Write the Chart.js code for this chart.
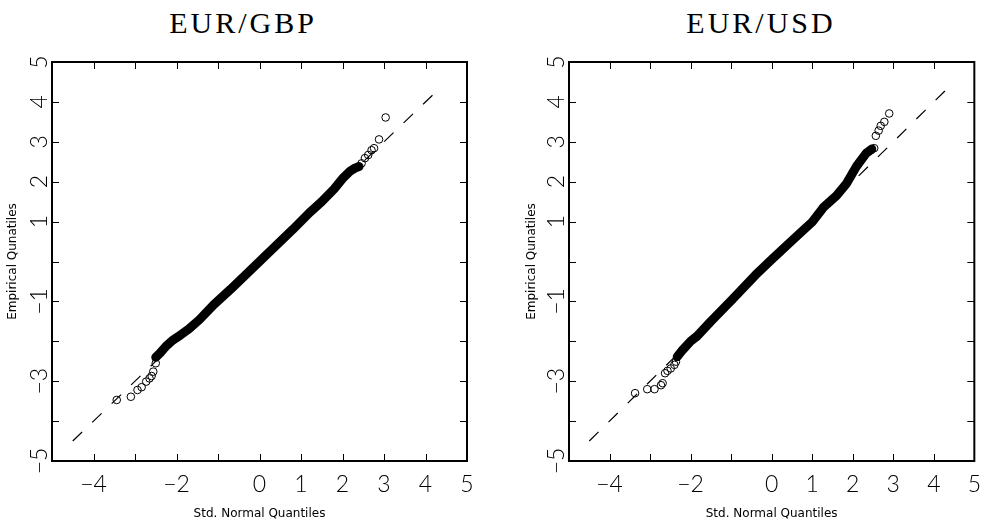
<!DOCTYPE html>
<html>
<head>
<meta charset="utf-8">
<script src="https://cdn.jsdelivr.net/npm/chart.js@4.4.1/dist/chart.umd.min.js"></script>
<style>
  html, body { margin: 0; padding: 0; background: #fff; }
  body { width: 991px; height: 530px; position: relative; overflow: hidden; }
  .panel { position: absolute; top: 0; height: 530px; }
  .title { position: absolute; top: 8px; font: 30px "Liberation Serif", serif; letter-spacing: 3px;
           line-height: 30px; transform: translateX(-50%); white-space: nowrap; color: #000; }
</style>
</head>
<body>
<div class="title" style="left:243px">EUR/GBP</div>
<div class="title" style="left:761px">EUR/USD</div>
<div class="panel" style="left:0;width:495px"><canvas id="gbp" width="495" height="530"></canvas></div>
<div class="panel" style="left:495px;width:496px"><canvas id="usd" width="496" height="530"></canvas></div>
<script>
// QQ plot values (std normal quantile, empirical quantile)

// reference line y = x
const refX = [-4.5, 4.35];
const refY = [-4.5, 4.35];

// labelled ticks (others are drawn as bare tick marks)
const xLabelled = [-4, -2, 0, 1, 2, 3, 4, 5];
const yLabelled = [-5, -3, -1, 1, 2, 3, 4, 5];

// EUR/GBP: dense central band + tail circles
const gbpBandX = [-2.50, -2.40, -2.25, -2.10, -1.90, -1.70, -1.45, -1.10, -0.70, -0.30, 0.00, 0.40, 0.80, 1.20, 1.50, 1.80, 2.02, 2.18, 2.30, 2.40];
const gbpBandY = [-2.40, -2.30, -2.12, -1.98, -1.84, -1.69, -1.46, -1.08, -0.70, -0.30, 0.00, 0.40, 0.80, 1.22, 1.50, 1.82, 2.10, 2.26, 2.34, 2.38];
const gbpLowX = [-3.44, -3.10, -2.94, -2.84, -2.73, -2.65, -2.60, -2.56, -2.50];
const gbpLowY = [-3.47, -3.39, -3.22, -3.15, -3.01, -2.93, -2.87, -2.76, -2.55];
const gbpUpX = [2.46, 2.54, 2.62, 2.70, 2.76, 2.88, 3.04];
const gbpUpY = [2.46, 2.59, 2.67, 2.79, 2.84, 3.06, 3.61];

// EUR/USD
const usdBandX = [-2.33, -2.20, -2.00, -1.84, -1.50, -1.00, -0.40, 0.00, 0.57, 1.00, 1.29, 1.60, 1.85, 2.09, 2.33, 2.47];
const usdBandY = [-2.39, -2.22, -2.00, -1.87, -1.50, -0.98, -0.34, 0.05, 0.59, 0.99, 1.37, 1.65, 1.96, 2.38, 2.71, 2.82];
const usdLowX = [-3.37, -3.07, -2.89, -2.73, -2.69, -2.63, -2.57, -2.49, -2.40, -2.36];
const usdLowY = [-3.30, -3.20, -3.20, -3.10, -3.05, -2.80, -2.74, -2.68, -2.59, -2.51];
const usdUpX = [2.45, 2.53, 2.57, 2.64, 2.69, 2.78, 2.90];
const usdUpY = [2.79, 2.84, 3.15, 3.28, 3.40, 3.50, 3.71];

const tickFont = { family: 'Lato, "DejaVu Sans", sans-serif', size: 23, weight: 300 };
const axisFont = { family: '"DejaVu Sans", sans-serif', size: 12 };

const zip = (xs, ys) => xs.map((v, i) => ({ x: v, y: ys[i] }));
const fmt = v => v < 0 ? '\u2212' + Math.abs(v) : String(v);

// box round the plot with short ticks pointing inward on all four sides
const frameTicks = {
  id: 'frameTicks',
  afterDatasetsDraw(chart) {
    const { ctx, chartArea: a, scales: { x, y } } = chart;
    ctx.save();
    ctx.strokeStyle = '#000';
    ctx.lineWidth = 1;
    ctx.beginPath();
    x.ticks.forEach(t => {
      const px = Math.round(x.getPixelForValue(t.value)) + 0.5;
      ctx.moveTo(px, a.bottom); ctx.lineTo(px, a.bottom - 7);
      ctx.moveTo(px, a.top); ctx.lineTo(px, a.top + 7);
    });
    y.ticks.forEach(t => {
      const py = Math.round(y.getPixelForValue(t.value)) + 0.5;
      ctx.moveTo(a.left, py); ctx.lineTo(a.left + 7, py);
      ctx.moveTo(a.right, py); ctx.lineTo(a.right - 7, py);
    });
    ctx.stroke();
    ctx.lineWidth = 2;
    ctx.strokeRect(a.left, a.top, a.right - a.left, a.bottom - a.top);
    ctx.restore();
  }
};

function buildQQ(canvasId, bandX, bandY, lowX, lowY, upX, upY, yWidth, padRight, yTitlePad) {
  const ctx = document.getElementById(canvasId).getContext('2d');
  new Chart(ctx, {
    type: 'scatter',
    data: {
      datasets: [
        {
          data: zip(refX, refY),
          showLine: true,
          borderColor: '#000',
          borderWidth: 1.2,
          borderDash: [13, 14],
          pointRadius: 0,
        },
        {
          data: zip(bandX, bandY),
          showLine: true,
          borderColor: '#000',
          borderWidth: 9,
          borderCapStyle: 'round',
          borderJoinStyle: 'round',
          pointRadius: 0,
        },
        {
          data: zip(lowX.concat(upX), lowY.concat(upY)),
          pointRadius: 3.8,
          pointBorderWidth: 1,
          pointBorderColor: '#000',
          pointBackgroundColor: 'rgba(0,0,0,0)',
        }
      ]
    },
    options: {
      responsive: false,
      animation: false,
      layout: { padding: { top: 62, right: padRight, left: 0, bottom: 0 } },
      plugins: { legend: { display: false }, tooltip: { enabled: false } },
      scales: {
        x: {
          type: 'linear', min: -5, max: 5,
          afterFit: s => { s.height = 69; },
          grid: { display: false, drawTicks: false },
          border: { display: false },
          ticks: {
            stepSize: 1, autoSkip: false, maxRotation: 0, padding: 10,
            color: '#000', font: tickFont,
            callback: v => xLabelled.includes(v) ? fmt(v) : ''
          },
          title: { display: true, text: 'Std. Normal Quantiles', color: '#000', font: axisFont, padding: { top: 0, bottom: 9 } }
        },
        y: {
          type: 'linear', min: -5, max: 5,
          afterFit: s => { s.width = yWidth; },
          grid: { display: false, drawTicks: false },
          border: { display: false },
          ticks: {
            stepSize: 1, autoSkip: false, minRotation: 90, maxRotation: 90,
            crossAlign: 'center', padding: -1,
            color: '#000', font: tickFont,
            callback: v => yLabelled.includes(v) ? fmt(v) : ''
          },
          title: { display: true, text: 'Empirical Qunatiles', color: '#000', font: axisFont, padding: { top: yTitlePad, bottom: 0 } }
        }
      }
    },
    plugins: [frameTicks]
  });
}

buildQQ('gbp', gbpBandX, gbpBandY, gbpLowX, gbpLowY, gbpUpX, gbpUpY, 52, 28, 6);
buildQQ('usd', usdBandX, usdBandY, usdLowX, usdLowY, usdUpX, usdUpY, 74, 7, 30);
</script>
</body>
</html>
